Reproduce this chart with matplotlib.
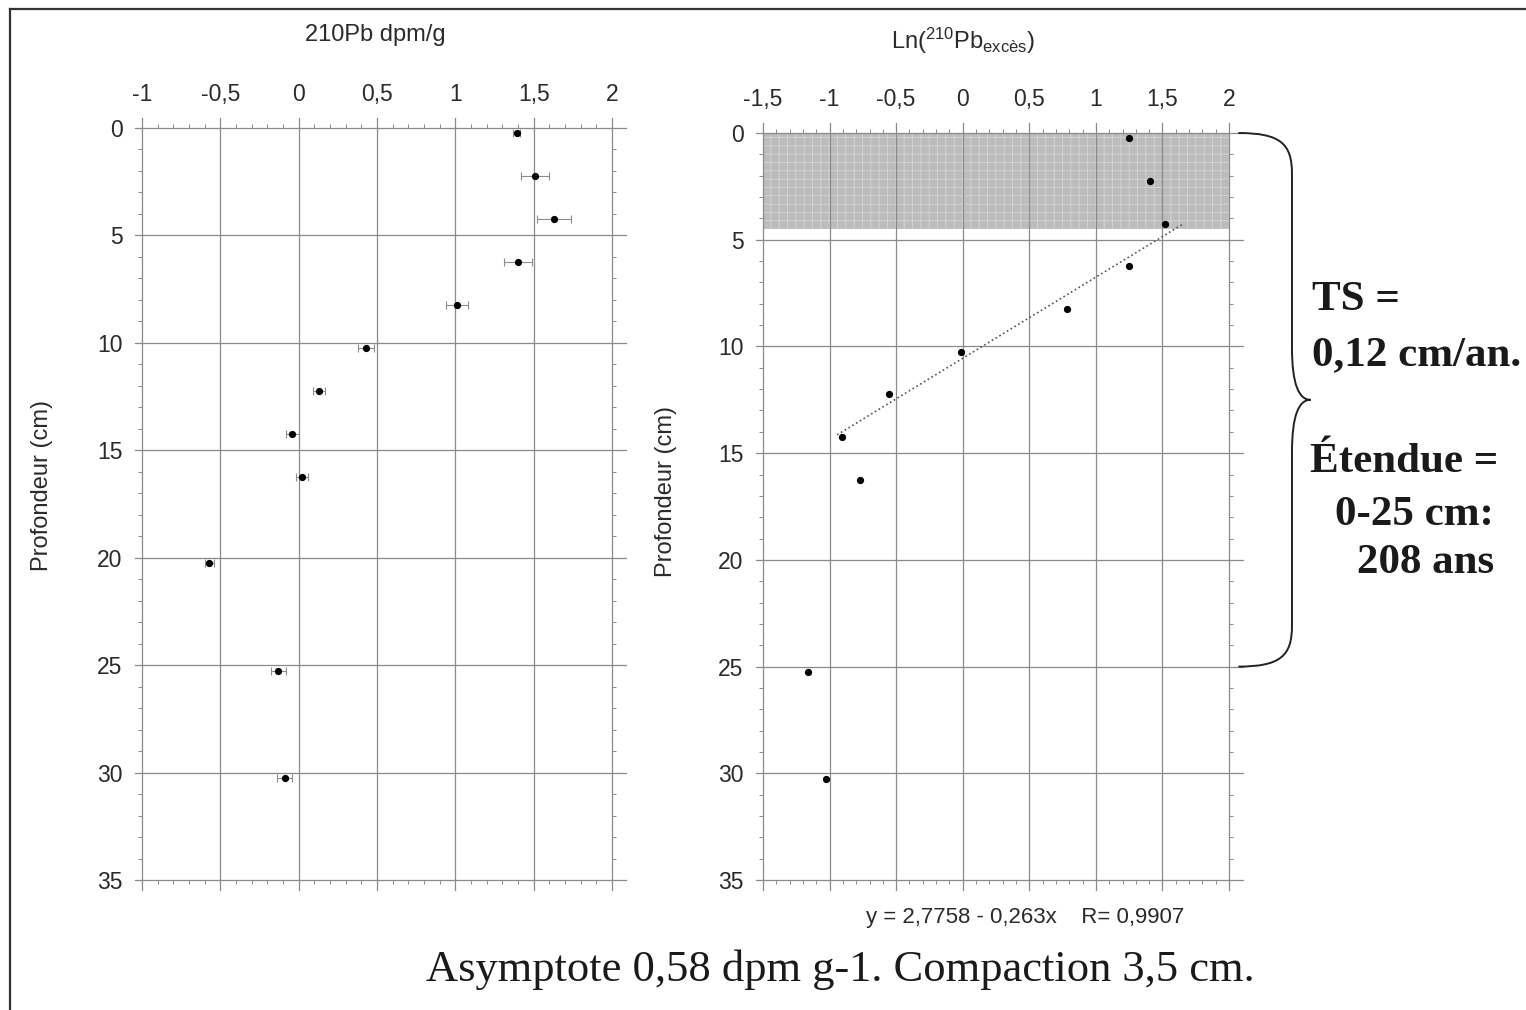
import matplotlib
matplotlib.use("Agg")
import matplotlib.pyplot as plt
from matplotlib.path import Path
from matplotlib.patches import PathPatch
from matplotlib.lines import Line2D
from matplotlib.ticker import MultipleLocator, FuncFormatter
import matplotlib.transforms as mtransforms
import numpy as np

# 210Pb profile (left panel)
depth_pb = [0.25, 2.25, 4.25, 6.25, 8.25, 10.25, 12.25, 14.25, 16.25, 20.25, 25.25, 30.25]
pb210 = [1.39, 1.51, 1.63, 1.40, 1.01, 0.43, 0.13, -0.04, 0.02, -0.57, -0.13, -0.09]
pb210_err = [0.02, 0.09, 0.11, 0.09, 0.07, 0.05, 0.04, 0.04, 0.04, 0.03, 0.05, 0.05]

# Ln(210Pb excess) profile (right panel)
depth_ln = [0.25, 2.25, 4.25, 6.25, 8.25, 10.25, 12.25, 14.25, 16.25, 25.25, 30.25]
ln_excess = [1.25, 1.41, 1.52, 1.25, 0.78, -0.01, -0.55, -0.91, -0.77, -1.16, -1.03]

# regression given on the chart: ln = a + b * depth
fit_a = 2.7758
fit_b = -0.263
fit_depth = [4.3, 14.2]
mixed_layer = [0, 4.5]

plt.rcParams['font.family'] = ['Liberation Sans', 'DejaVu Sans']
plt.rcParams['mathtext.default'] = 'regular'
plt.rcParams['hatch.linewidth'] = 0.6

GRID = '#8a8a8a'
TXT = '#2a2a2a'

fig = plt.figure(figsize=(15.26, 10.10), dpi=100)
fig.patch.set_facecolor('white')


def comma(v, pos):
    s = '%g' % v
    return s.replace('.', ',')


def style_axes(ax, xlim, xstep):
    ax.set_xlim(*xlim)
    ax.set_ylim(35, 0)
    for sp in ax.spines.values():
        sp.set_visible(False)
    ax.xaxis.set_major_locator(MultipleLocator(xstep))
    ax.xaxis.set_minor_locator(MultipleLocator(0.1))
    ax.yaxis.set_major_locator(MultipleLocator(5))
    ax.yaxis.set_minor_locator(MultipleLocator(1))
    ax.xaxis.set_major_formatter(FuncFormatter(comma))
    ax.tick_params(which='both', direction='out', top=True, bottom=True,
                   left=True, right=True, labeltop=True, labelbottom=False,
                   color=GRID, width=0.7)
    ax.tick_params(which='major', length=5)
    ax.tick_params(which='minor', length=3)
    ax.tick_params(axis='x', which='major', pad=11, labelsize=16.5, labelcolor=TXT)
    ax.tick_params(axis='y', which='major', pad=9, labelsize=16.5, labelcolor=TXT)
    # grid lines slightly overshooting the plot area, old-style
    for x in np.arange(xlim[0], xlim[1] + 1e-9, xstep):
        ax.axvline(x, ymin=-0.013, ymax=1.013, color=GRID, lw=0.9, clip_on=False, zorder=1)
    for y in range(0, 36, 5):
        ax.axhline(y, xmin=-0.016, xmax=1.03, color=GRID, lw=0.9, clip_on=False, zorder=1)
    ax.set_ylabel('Profondeur (cm)', fontsize=17, color=TXT)


# left panel
ax1 = fig.add_axes([0.0931, 0.1287, 0.308, 0.7446])
style_axes(ax1, (-1, 2), 0.5)
ax1.errorbar(pb210, depth_pb, xerr=pb210_err, fmt='o', color='black', markersize=4.2,
             ecolor='#8c8c8c', elinewidth=0.8, capsize=3, capthick=0.8, zorder=3)
ax1.yaxis.set_label_coords(-0.19, 0.525)
fig.text(0.2457, 0.9653, '210Pb dpm/g', ha='center', va='center', fontsize=17, color=TXT)

# right panel
ax2 = fig.add_axes([0.5, 0.1287, 0.3054, 0.7396])
style_axes(ax2, (-1.5, 2), 0.5)
ax2.axhspan(mixed_layer[0], mixed_layer[1], facecolor='#bcbcbc', edgecolor='#d6d6d6',
            hatch='++', lw=0, zorder=0.5)
ax2.plot(ln_excess, depth_ln, 'o', color='black', markersize=4.2, zorder=3)
fd = np.array(fit_depth)
ax2.plot(fit_a + fit_b * fd, fd, ':', color='#555555', lw=1.2, zorder=2)
ax2.yaxis.set_label_coords(-0.185, 0.52)
fig.text(0.631, 0.960, r'Ln($^{210}$Pb$_{excès}$)', ha='center', va='center',
         fontsize=17, color=TXT)
ax2.text(0.562, -0.05, 'y = 2,7758 - 0,263x    R= 0,9907', transform=ax2.transAxes,
         ha='center', va='center', fontsize=16, color=TXT)

# curly brace spanning 0-25 cm
tr = mtransforms.blended_transform_factory(ax2.transAxes, ax2.transData)
x0, x1, x2 = 1.02, 1.135, 1.175
verts = [(x0, 0), (1.11, 0), (x1, 0.5), (x1, 1.9),
         (x1, 10.0),
         (x1, 11.8), (1.15, 12.5), (x2, 12.5),
         (1.15, 12.5), (x1, 13.2), (x1, 15.0),
         (x1, 23.1),
         (x1, 24.5), (1.11, 25), (x0, 25)]
codes = [Path.MOVETO, Path.CURVE4, Path.CURVE4, Path.CURVE4,
         Path.LINETO,
         Path.CURVE4, Path.CURVE4, Path.CURVE4,
         Path.CURVE4, Path.CURVE4, Path.CURVE4,
         Path.LINETO,
         Path.CURVE4, Path.CURVE4, Path.CURVE4]
ax2.add_patch(PathPatch(Path(verts, codes), transform=tr, fill=False, lw=1.4,
                        edgecolor='#222222', clip_on=False))

serif_b = dict(family=['Liberation Serif', 'DejaVu Serif'], fontweight='bold',
               fontsize=31, color='#1a1a1a', va='center', ha='left')
fig.text(0.8598, 0.703, 'TS =', **serif_b)
fig.text(0.8598, 0.6485, '0,12 cm/an.', **serif_b)
fig.text(0.8585, 0.5426, 'Étendue =', **serif_b)
fig.text(0.8748, 0.490, '0-25 cm:', **serif_b)
fig.text(0.889, 0.4426, '208 ans', **serif_b)

fig.text(0.5505, 0.040, 'Asymptote 0,58 dpm g-1. Compaction 3,5 cm.',
         family=['Liberation Serif', 'DejaVu Serif'], fontsize=32, color='#1a1a1a',
         ha='center', va='center')

# page frame (top and left edges)
fig.add_artist(Line2D([0.00655, 1.0], [0.991, 0.991], transform=fig.transFigure,
                      color='#333333', lw=1.6))
fig.add_artist(Line2D([0.00655, 0.00655], [0.0, 0.991], transform=fig.transFigure,
                      color='#333333', lw=1.6))

fig.savefig('out.png', dpi=100)
